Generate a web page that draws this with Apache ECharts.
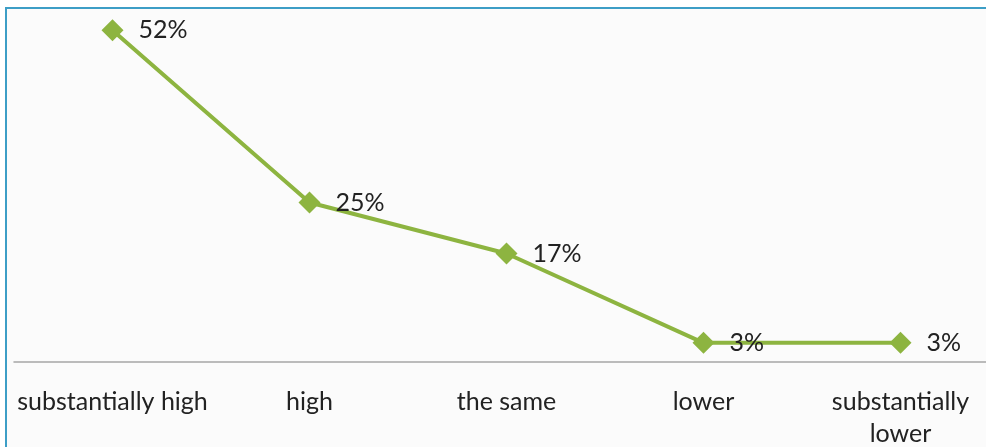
<!DOCTYPE html>
<html><head><meta charset="utf-8">
<script src="https://cdn.jsdelivr.net/npm/echarts@6/dist/echarts.min.js"></script>
<style>
html,body{margin:0;padding:0;background:#fff;overflow:hidden;width:986px;height:447px}
#bg{position:absolute;left:5px;top:7px;width:2000px;height:2000px;border:2px solid #3d9ec6;background:#fbfbfb}
#c{position:absolute;left:0;top:0;width:986px;height:447px}
</style>
</head><body><div id="bg"></div><div id="c"></div>
<script>
const categories = ['substantially high', 'high', 'the same', 'lower', 'substantially lower'];
const values = [52, 25, 17, 3, 3];

const chart = echarts.init(document.getElementById('c'));
const last = categories.length - 1;
chart.setOption({
  animation: false,
  backgroundColor: 'transparent',
  grid: { left: 14, width: 985, top: 11, height: 351, containLabel: false, outerBoundsMode: 'none' },
  xAxis: {
    type: 'category', data: categories, boundaryGap: true,
    axisLine: { lineStyle: { color: '#a6a6a6', width: 1.5 } },
    axisTick: { show: false },
    axisLabel: {
      color: '#222', fontSize: 25, fontFamily: 'Lato', margin: 24, lineHeight: 32,
      interval: 0, hideOverlap: false,
      formatter: (v, i) => i === last ? v.replace(' ', '\n') : v
    }
  },
  yAxis: { type: 'value', min: 0, max: 55, show: false, splitLine: { show: false } },
  series: [{
    type: 'line', data: values,
    lineStyle: { color: '#8db440', width: 4 },
    itemStyle: { color: '#8db440' },
    symbol: 'diamond', symbolSize: 22,
    label: {
      show: true, position: 'right', distance: 15,
      formatter: p => p.value + '%',
      color: '#222', fontSize: 25, fontFamily: 'Lato'
    }
  }]
});
</script></body></html>
